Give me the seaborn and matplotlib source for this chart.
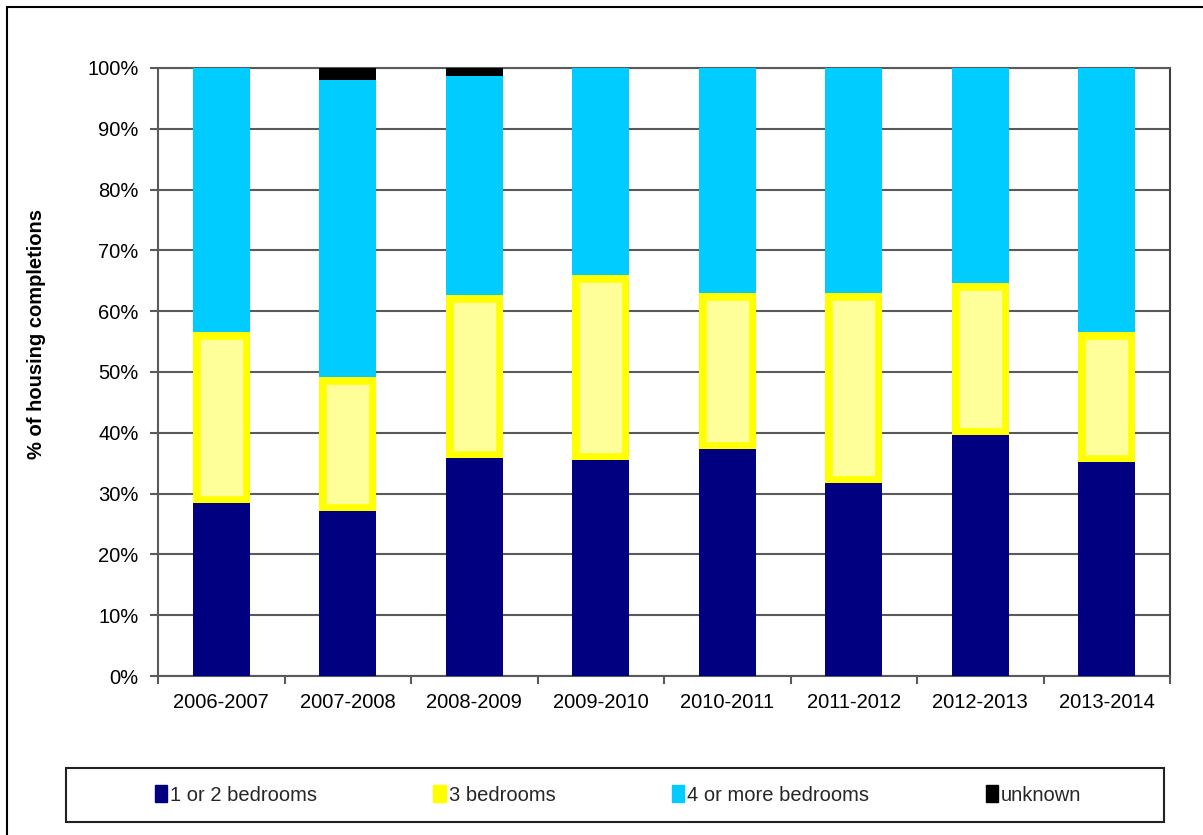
import numpy as np
import matplotlib
matplotlib.use("Agg")
import matplotlib.pyplot as plt
from matplotlib.patches import Patch, Rectangle
from matplotlib.lines import Line2D
from matplotlib.ticker import FuncFormatter, MultipleLocator, FixedLocator
import seaborn as sns

# Share of housing completions by number of bedrooms (%)
years = ["2006-2007", "2007-2008", "2008-2009", "2009-2010",
         "2010-2011", "2011-2012", "2012-2013", "2013-2014"]
one_or_two = [28.5, 27.2, 35.8, 35.6, 37.3, 31.7, 39.6, 35.2]
three = [28.1, 22.0, 26.9, 30.4, 25.7, 31.3, 25.1, 21.3]
four_plus = [43.4, 48.9, 36.0, 34.0, 37.0, 37.0, 35.3, 43.5]
unknown = [0.0, 1.9, 1.3, 0.0, 0.0, 0.0, 0.0, 0.0]
series_names = ["1 or 2 bedrooms", "3 bedrooms", "4 or more bedrooms", "unknown"]

sns.set_theme(style="white")
plt.rcParams["font.family"] = ["Liberation Sans", "DejaVu Sans"]

W, H = 1203, 835
fig = plt.figure(figsize=(W / 100, H / 100), dpi=100)
fig.patch.set_facecolor("white")
ax = fig.add_axes([158 / W, (H - 676) / H, (1170 - 158) / W, (676 - 68) / H])

navy = "#000080"
yellow = "#FFFF00"
pale_yellow = "#FFFF99"
cyan = "#00CCFF"
grid_col = "#5a5a5a"
fs = 14.5

bar_w = 0.45
layers = [
    (one_or_two, navy, navy, 0.0),
    (three, pale_yellow, yellow, 10.5),
    (four_plus, cyan, cyan, 0.0),
    (unknown, "black", "black", 0.0),
]
bottom = np.zeros(len(years))
for values, face, edge, lw in layers:
    n_before = len(ax.patches)
    sns.barplot(x=years, y=values, bottom=bottom.copy(), color=face,
                width=bar_w, saturation=1, edgecolor=edge, linewidth=lw,
                ax=ax, zorder=3)
    if lw > 0:
        # keep the thick border inside each segment
        for p in ax.patches[n_before:]:
            p.set_clip_path(p)
    bottom = bottom + np.asarray(values)

ax.set_ylim(0, 100)
ax.set_xlim(-0.5, len(years) - 0.5)
ax.yaxis.set_major_locator(MultipleLocator(10))
ax.yaxis.set_major_formatter(FuncFormatter(lambda v, _: f"{v:.0f}%"))
ax.grid(axis="y", color=grid_col, linewidth=1.5, zorder=0)
ax.set_axisbelow(True)

for s in ax.spines.values():
    s.set_visible(True)
    s.set_color(grid_col)
    s.set_linewidth(1.5)
ax.spines["right"].set_color("#404040")

ax.tick_params(axis="y", which="major", direction="out", length=6, width=1.5,
               color=grid_col, labelsize=fs, pad=8, labelcolor="black",
               left=True, right=False)
ax.xaxis.set_minor_locator(FixedLocator(np.arange(-0.5, len(years), 1.0)))
ax.tick_params(axis="x", which="major", length=0, labelsize=fs, pad=12,
               labelcolor="black")
ax.tick_params(axis="x", which="minor", direction="out", length=6, width=1.5,
               color=grid_col, bottom=True, top=False)

ax.set_xlabel("")
ax.set_ylabel("% of housing completions", fontsize=fs, fontweight="bold",
              color="black")
ax.yaxis.set_label_coords((46 - 158) / (1170 - 158), (676 - 334) / (676 - 68))

# outer frame of the chart area (left and top edges)
fig.add_artist(Line2D([7 / W, 7 / W], [0, 1 - 7 / H], transform=fig.transFigure,
                      color="black", linewidth=1.5))
fig.add_artist(Line2D([7 / W, 1], [1 - 7 / H, 1 - 7 / H], transform=fig.transFigure,
                      color="black", linewidth=1.5))

# legend box
fig.add_artist(Rectangle((66 / W, (H - 822) / H), (1164 - 66) / W, 54 / H,
                         transform=fig.transFigure, facecolor="white",
                         edgecolor="#222222", linewidth=1.5))
handles = [Patch(facecolor=c, edgecolor=c) for c in [navy, yellow, cyan, "black"]]
fig.legend(handles, series_names, loc="center", ncol=4, frameon=False,
           bbox_to_anchor=(618 / W, (H - 795) / H), fontsize=fs,
           handlelength=0.6, handleheight=0.9, handletextpad=0.15,
           columnspacing=5.8)

fig.savefig("out.png", dpi=100, facecolor="white")
